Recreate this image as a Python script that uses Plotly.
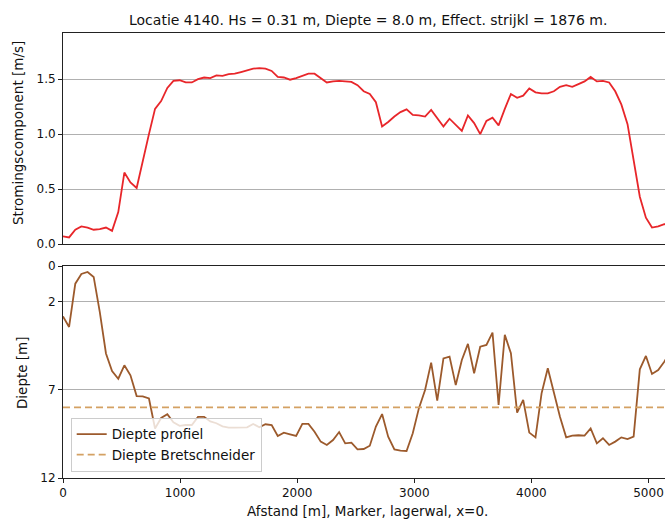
import plotly.graph_objects as go

# ---------------- data ----------------
afstand = [0, 52, 105, 157, 210, 262, 314, 367, 419, 472, 524, 576, 629, 681, 734, 786, 838, 891,
           943, 996, 1048, 1100, 1153, 1205, 1258, 1310, 1362, 1415, 1467, 1520, 1572, 1624, 1677,
           1729, 1782, 1834, 1886, 1939, 1991, 2044, 2096, 2148, 2201, 2253, 2306, 2358, 2410,
           2463, 2515, 2568, 2620, 2672, 2725, 2777, 2830, 2882, 2934, 2987, 3039, 3092, 3144,
           3196, 3249, 3301, 3354, 3406, 3458, 3511, 3563, 3616, 3668, 3720, 3773, 3825, 3878,
           3930, 3982, 4035, 4087, 4140, 4192, 4244, 4297, 4349, 4402, 4454, 4506, 4559, 4611,
           4664, 4716, 4768, 4821, 4873, 4926, 4978, 5030, 5083, 5135, 5188]

stroming = [0.07, 0.06, 0.13, 0.16, 0.15, 0.13, 0.135, 0.15, 0.12, 0.29,
            0.65, 0.56, 0.51, 0.76, 1.00, 1.23, 1.30, 1.42, 1.485, 1.49,
            1.47, 1.47, 1.50, 1.515, 1.51, 1.535, 1.53, 1.545, 1.55, 1.565,
            1.58, 1.595, 1.60, 1.595, 1.575, 1.52, 1.515, 1.495, 1.51, 1.53,
            1.55, 1.55, 1.51, 1.47, 1.48, 1.485, 1.48, 1.475, 1.445, 1.39,
            1.365, 1.29, 1.07, 1.11, 1.16, 1.20, 1.225, 1.175, 1.17, 1.16,
            1.22, 1.14, 1.07, 1.14, 1.08, 1.03, 1.17, 1.10, 1.00, 1.12,
            1.15, 1.08, 1.23, 1.365, 1.33, 1.35, 1.415, 1.38, 1.37, 1.37,
            1.39, 1.43, 1.445, 1.43, 1.455, 1.48, 1.52, 1.48, 1.485, 1.47,
            1.39, 1.27, 1.09, 0.78, 0.43, 0.24, 0.15, 0.16, 0.18, 0.19]

diepte = [2.85, 3.45, 1.0, 0.45, 0.34, 0.62, 2.6, 4.95, 5.95, 6.38,
          5.62, 6.19, 7.36, 7.38, 7.5, 9.2, 8.6, 8.39, 8.85, 9.05,
          9.0, 9.0, 8.54, 8.54, 8.8, 8.9, 9.08, 9.15, 9.15, 9.15,
          9.13, 8.94, 9.13, 8.96, 9.0, 9.62, 9.43, 9.53, 9.62, 8.94,
          8.94, 9.38, 9.94, 10.13, 9.85, 9.4, 10.04, 10.0, 10.38, 10.36,
          10.17, 9.09, 8.38, 9.66, 10.38, 10.45, 10.47, 9.47, 8.06, 7.02,
          5.47, 7.62, 5.23, 5.13, 6.74, 5.32, 4.41, 6.07, 4.57, 4.47,
          3.77, 7.87, 3.9, 4.94, 8.3, 7.58, 9.43, 9.7, 7.21, 5.79,
          7.11, 8.53, 9.7, 9.6, 9.58, 9.6, 9.19, 10.04, 9.75, 10.13,
          9.94, 9.7, 9.8, 9.66, 5.85, 5.09, 6.11, 5.89, 5.42, 4.8]

diepte_bretschneider = 8.0

titel = "Locatie 4140. Hs = 0.31 m, Diepte = 8.0 m, Effect. strijkl = 1876 m."
x_ticks = [0, 1000, 2000, 3000, 4000, 5000]
y1_ticks = [0.0, 0.5, 1.0, 1.5]
y1_ticktext = ["0.0", "0.5", "1.0", "1.5"]
y2_ticks = [0, 2, 7, 12]

# ---------------- figure ----------------
FONT = "DejaVu Sans"
AXC = "#222222"
GRID = "#b0b0b0"

fig = go.Figure()
fig.add_trace(go.Scatter(x=afstand, y=stroming, mode="lines",
                         line=dict(color="#e8262a", width=1.8),
                         xaxis="x", yaxis="y", showlegend=False))
fig.add_trace(go.Scatter(x=afstand, y=diepte, mode="lines", name="Diepte profiel",
                         line=dict(color="#9c5a2c", width=1.8),
                         xaxis="x2", yaxis="y2"))
fig.add_trace(go.Scatter(x=[afstand[0], afstand[-1]],
                         y=[diepte_bretschneider, diepte_bretschneider],
                         mode="lines", name="Diepte Bretschneider",
                         line=dict(color="#d4a163", width=1.8, dash="7px,4px"),
                         xaxis="x2", yaxis="y2"))

xr = [0, 5141]
common_x = dict(range=xr, showgrid=False, zeroline=False, showline=True, mirror=True,
                linecolor=AXC, linewidth=1)

fig.update_layout(
    width=665, height=522,
    margin=dict(l=63, r=0, t=33, b=44),
    paper_bgcolor="white", plot_bgcolor="white",
    font=dict(family=FONT, size=12, color="#111111"),
    xaxis=dict(domain=[0, 1], anchor="y", showticklabels=False, ticks="", **common_x),
    yaxis=dict(domain=[0.5258, 1.0], anchor="x", range=[0, 1.92],
               tickvals=y1_ticks, ticktext=y1_ticktext,
               ticks="outside", ticklen=4, tickcolor=AXC,
               showgrid=True, gridcolor=GRID, gridwidth=0.8,
               showline=True, linecolor=AXC, linewidth=1,
               zeroline=True, zerolinecolor="#111111", zerolinewidth=2.5,
               tickfont=dict(size=12)),
    xaxis2=dict(domain=[0, 1], anchor="y2", tickvals=x_ticks,
                ticks="outside", ticklen=4, tickcolor=AXC,
                tickfont=dict(size=12), **common_x),
    yaxis2=dict(domain=[0, 0.4764], anchor="x2", range=[12, 0],
                tickvals=y2_ticks, ticks="outside", ticklen=4, tickcolor=AXC,
                showgrid=True, gridcolor=GRID, gridwidth=0.8,
                showline=True, linecolor=AXC, linewidth=1, zeroline=False,
                tickfont=dict(size=12)),
    legend=dict(x=0.0128, y=0.014, xanchor="left", yanchor="bottom",
                bgcolor="rgba(255,255,255,0.8)", bordercolor="#cccccc", borderwidth=1,
                font=dict(size=13.5, family=FONT, color="#111111"),
                tracegroupgap=0),
    annotations=[
        dict(text=titel, xref="paper", yref="paper", x=0.5066, y=1.0292,
             xanchor="center", yanchor="middle", showarrow=False,
             font=dict(size=14, family=FONT, color="#111111")),
        dict(text="Stromingscomponent [m/s]", xref="paper", yref="paper",
             x=-0.0748, y=0.775, xanchor="center", yanchor="middle",
             textangle=-90, showarrow=False, font=dict(size=13.5, family=FONT, color="#111111")),
        dict(text="Diepte [m]", xref="paper", yref="paper",
             x=-0.0689, y=0.237, xanchor="center", yanchor="middle",
             textangle=-90, showarrow=False, font=dict(size=13.5, family=FONT, color="#111111")),
        dict(text="Afstand [m], Marker, lagerwal, x=0.", xref="paper", yref="paper",
             x=0.505, y=-0.0742, xanchor="center", yanchor="middle",
             showarrow=False, font=dict(size=13.5, family=FONT, color="#111111")),
    ],
)

fig.write_html("out.html")
